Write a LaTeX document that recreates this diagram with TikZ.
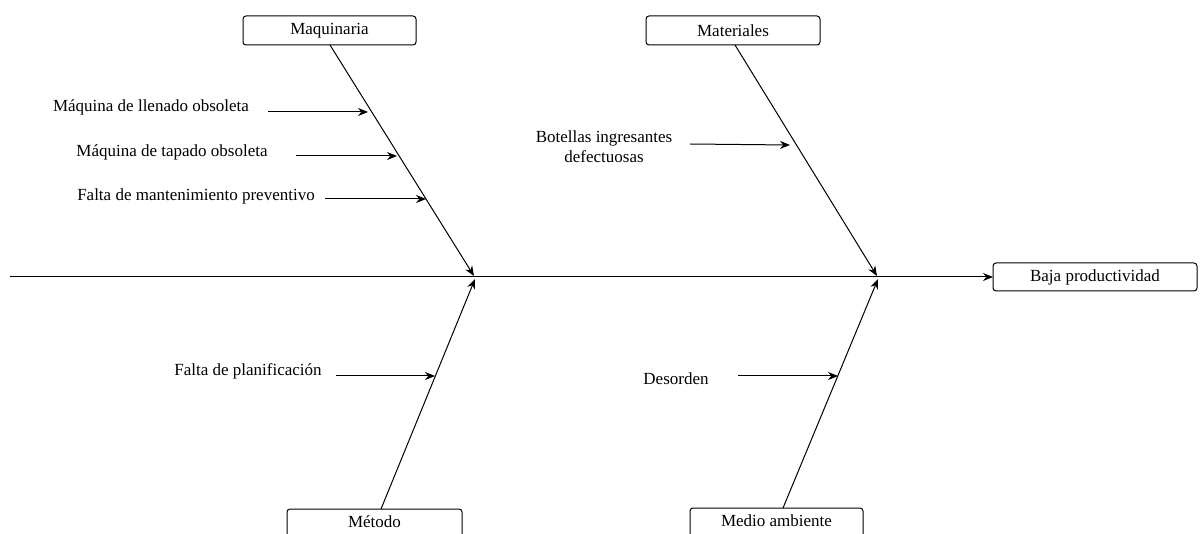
\documentclass[tikz,border=0pt]{standalone}
\usepackage{fontspec}
\setmainfont{Liberation Serif}
\usetikzlibrary{arrows.meta}
\begin{document}
\begin{tikzpicture}[x=1pt,y=-1pt,
  cat/.style={draw,line width=1pt,rounded corners=3pt,fill=white},
  lbl/.style={font=\fontsize{17}{20}\selectfont,inner sep=0pt,align=center},
  bone/.style={line width=1pt,-{Stealth[length=10pt,width=8pt]}},
  spine/.style={line width=1pt,-{Stealth[length=10pt,width=8pt]}}]
\clip (0,0) rectangle (1200,534);
\useasboundingbox (0,0) rectangle (1200,534);
% category boxes
\draw[cat] (243,16) rectangle (416,45);
\node[lbl] (maq) at (329.5,30.5) {Maquinaria};
\draw[cat] (646,16) rectangle (820,45);
\node[lbl] (mat) at (733,30.5) {Materiales};
\draw[cat] (993,263) rectangle (1197,291);
\node[lbl] (baja) at (1095,277) {Baja productividad};
\draw[cat] (287,509) rectangle (462,560);
\node[lbl] (met) at (374.5,522) {Método};
\draw[cat] (690,508) rectangle (863,560);
\node[lbl] (med) at (776.5,521) {Medio ambiente};
% coordinates
\coordinate (s0) at (10,277);
\coordinate (s1) at (993,277);
\coordinate (maqT) at (330,45);
\coordinate (maqH) at (474,276);
\coordinate (matT) at (735,45);
\coordinate (matH) at (877,276);
\coordinate (metB) at (381,509);
\coordinate (metH) at (475,279);
\coordinate (medB) at (783,508);
\coordinate (medH) at (878,279);
% spine and bones
\draw[spine] (s0) -- (s1);
\draw[bone] (maqT) -- (maqH);
\draw[bone] (matT) -- (matH);
\draw[bone] (metB) -- (metH);
\draw[bone] (medB) -- (medH);
% causes
\node[lbl] (c1) at (151,107) {Máquina de llenado obsoleta};
\coordinate (c1a) at (268,112); \coordinate (c1b) at (368,112);
\draw[bone] (c1a) -- (c1b);
\node[lbl] (c2) at (172,152) {Máquina de tapado obsoleta};
\coordinate (c2a) at (296,156); \coordinate (c2b) at (397,156);
\draw[bone] (c2a) -- (c2b);
\node[lbl] (c3) at (196,196) {Falta de mantenimiento preventivo};
\coordinate (c3a) at (325,199); \coordinate (c3b) at (426,199);
\draw[bone] (c3a) -- (c3b);
\node[lbl] (c4) at (604,147) {Botellas ingresantes\\defectuosas};
\coordinate (c4a) at (690,144); \coordinate (c4b) at (790,145);
\draw[bone] (c4a) -- (c4b);
\node[lbl] (c5) at (248,371) {Falta de planificación};
\coordinate (c5a) at (336,376); \coordinate (c5b) at (435,376);
\draw[bone] (c5a) -- (c5b);
\node[lbl] (c6) at (676,379) {Desorden};
\coordinate (c6a) at (738,376); \coordinate (c6b) at (838,376);
\draw[bone] (c6a) -- (c6b);
\end{tikzpicture}
\end{document}
